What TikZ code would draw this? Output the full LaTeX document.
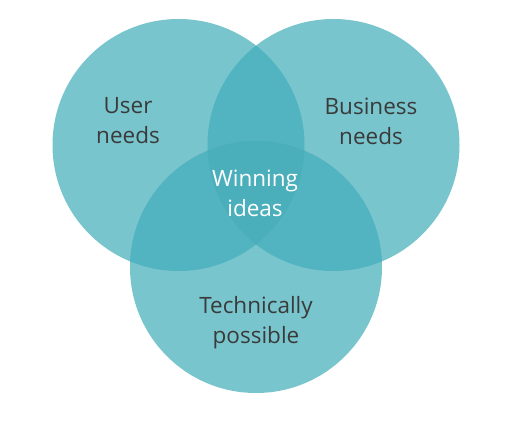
\documentclass[tikz,border=0pt]{standalone}
\usepackage{fontspec}
\setmainfont{Open Sans}
\definecolor{cone}{HTML}{78C5CD}
\definecolor{ctwo}{HTML}{52B3C1}
\definecolor{cthree}{HTML}{4AAEBB}
\definecolor{txt}{HTML}{3A3A3A}
\begin{document}
\begin{tikzpicture}[x=1pt,y=1pt,
  lbl/.style={align=center,font=\fontsize{22.5}{30}\selectfont,text=txt,inner sep=0pt},
  wlbl/.style={lbl,text=white}]
\useasboundingbox (0,0) rectangle (509,-423);
\fill[white] (0,0) rectangle (509,-423);
\def\R{126}
\coordinate (cl) at (178.5,-145);
\coordinate (cr) at (333.5,-145);
\coordinate (cb) at (256,-267);
\fill[cone] (cl) circle (\R);
\fill[cone] (cr) circle (\R);
\fill[cone] (cb) circle (\R);
\begin{scope}
  \clip (cl) circle (\R);
  \fill[ctwo] (cr) circle (\R);
  \fill[ctwo] (cb) circle (\R);
\end{scope}
\begin{scope}
  \clip (cr) circle (\R);
  \fill[ctwo] (cb) circle (\R);
\end{scope}
\begin{scope}
  \clip (cl) circle (\R);
  \clip (cr) circle (\R);
  \fill[cthree] (cb) circle (\R);
\end{scope}
\node[lbl] (user) at (128,-121) {User\\needs};
\node[lbl] (bus) at (371,-121) {Business\\needs};
\node[wlbl] (win) at (255,-193) {Winning\\ideas};
\node[lbl] (tech) at (256,-323) {Technically\\possible};
\end{tikzpicture}
\end{document}
